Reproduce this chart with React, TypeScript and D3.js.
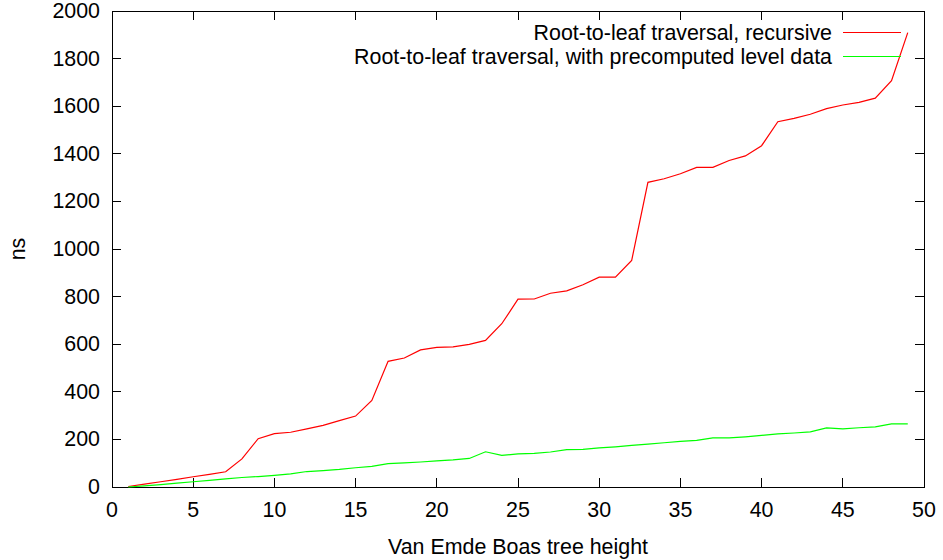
import React from "react";
import * as d3 from "d3";

const heights: number[] = d3.range(1, 50);
const recursive: number[] = [
  2, 12, 22, 32, 43, 53, 64, 118, 203, 224,
  230, 244, 259, 279, 298, 364, 528, 542, 576, 587,
  589, 599, 616, 686, 789, 790, 814, 824, 850, 882,
  882, 952, 1280, 1295, 1316, 1343, 1343, 1372, 1391, 1434,
  1535, 1549, 1566, 1590, 1605, 1616, 1634, 1707, 1909,
];
const precomputed: number[] = [
  0, 5, 10, 16, 22, 28, 34, 40, 44, 49,
  55, 65, 69, 74, 81, 87, 98, 101, 105, 110,
  114, 120, 148, 133, 139, 141, 147, 157, 158, 164,
  169, 175, 180, 186, 192, 196, 206, 206, 211, 217,
  223, 227, 232, 248, 244, 249, 253, 265, 265,
];
const xTicks: number[] = [0, 5, 10, 15, 20, 25, 30, 35, 40, 45, 50];
const yTicks: number[] = [0, 200, 400, 600, 800, 1000, 1200, 1400, 1600, 1800, 2000];
const seriesNames: string[] = [
  "Root-to-leaf traversal, recursive",
  "Root-to-leaf traversal, with precomputed level data",
];
const seriesColors: string[] = ["#ff0000", "#00ff00"];
const xLabel = "Van Emde Boas tree height";
const yLabel = "ns";

const W = 943;
const H = 560;
const L = 112;
const R = 924;
const T = 11;
const B = 487;
const FONT = "'Liberation Sans', Arial, sans-serif";
const FS = 21.4;
const TICK = 9;

export default function App() {
  const x = d3.scaleLinear().domain([0, 50]).range([L, R]);
  const y = d3.scaleLinear().domain([0, 2000]).range([B, T]);
  const line = d3
    .line<number>()
    .x((_, i) => x(heights[i]))
    .y((d) => y(d));
  const series = [recursive, precomputed];

  return (
    <svg
      width={W}
      height={H}
      style={{ position: "absolute", left: 0, top: 0, background: "#fff" }}
      fontFamily={FONT}
      fontSize={FS}
    >
      <rect x={0} y={0} width={W} height={H} fill="#fff" />
      {yTicks.map((t) => (
        <g key={"y" + t}>
          <line x1={L} x2={L + TICK} y1={y(t)} y2={y(t)} stroke="#000" strokeWidth={1} shapeRendering="crispEdges" />
          <line x1={R} x2={R - TICK} y1={y(t)} y2={y(t)} stroke="#000" strokeWidth={1} shapeRendering="crispEdges" />
          <text x={L - 12} y={y(t)} textAnchor="end" dominantBaseline="central" fill="#000">
            {t}
          </text>
        </g>
      ))}
      {xTicks.map((t) => (
        <g key={"x" + t}>
          <line x1={x(t)} x2={x(t)} y1={B} y2={B - TICK} stroke="#000" strokeWidth={1} shapeRendering="crispEdges" />
          <line x1={x(t)} x2={x(t)} y1={T} y2={T + TICK} stroke="#000" strokeWidth={1} shapeRendering="crispEdges" />
          <text x={x(t)} y={B + 23} textAnchor="middle" dominantBaseline="central" fill="#000">
            {t}
          </text>
        </g>
      ))}
      <rect x={L} y={T} width={R - L} height={B - T} fill="none" stroke="#000" strokeWidth={1} shapeRendering="crispEdges" />
      <text x={(L + R) / 2} y={547} textAnchor="middle" dominantBaseline="central" fill="#000">
        {xLabel}
      </text>
      <text
        transform={`translate(18, ${(T + B) / 2}) rotate(-90)`}
        textAnchor="middle"
        dominantBaseline="central"
        fill="#000"
      >
        {yLabel}
      </text>
      {series.map((s, i) => (
        <g key={"s" + i}>
          <text x={832} y={33 + i * 24} textAnchor="end" dominantBaseline="central" fill="#000">
            {seriesNames[i]}
          </text>
          <line x1={843} x2={901} y1={32.5 + i * 24} y2={32.5 + i * 24} stroke={seriesColors[i]} strokeWidth={1} />
          <path d={line(s) || ""} fill="none" stroke={seriesColors[i]} strokeWidth={1.2} />
        </g>
      ))}
    </svg>
  );
}
